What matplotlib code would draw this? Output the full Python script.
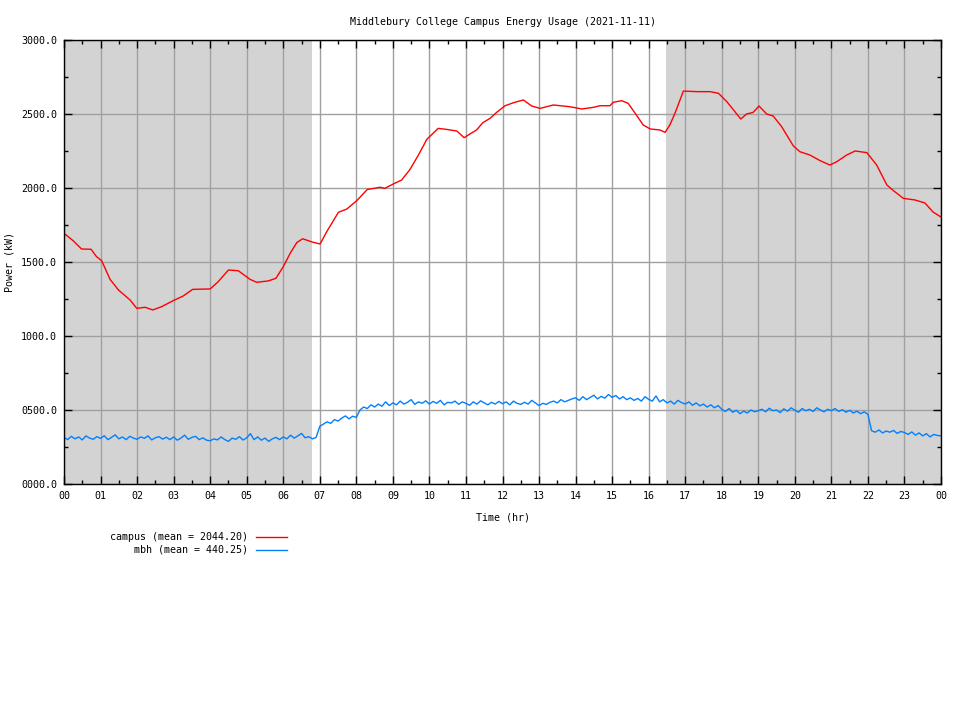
import numpy as np
import matplotlib
matplotlib.use("Agg")
import matplotlib.pyplot as plt
from matplotlib.ticker import MultipleLocator, FixedLocator, FuncFormatter

# campus load (kW), hour of day -> value
campus_hours = [
    0.00, 0.25, 0.48, 0.74, 0.89, 1.03, 1.26, 1.49, 1.81, 1.99,
    2.22, 2.43, 2.67, 2.99, 3.26, 3.52, 4.00, 4.22, 4.50, 4.77,
    5.09, 5.27, 5.59, 5.80, 6.00, 6.19, 6.37, 6.53, 6.82, 7.01,
    7.19, 7.51, 7.74, 8.01, 8.30, 8.65, 8.78, 9.01, 9.24, 9.47,
    9.70, 9.93, 10.24, 10.47, 10.75, 10.95, 11.11, 11.29, 11.46, 11.66,
    11.84, 12.07, 12.30, 12.57, 12.80, 13.03, 13.39, 13.85, 14.17, 14.49,
    14.67, 14.94, 15.03, 15.26, 15.44, 15.63, 15.85, 16.04, 16.31, 16.45,
    16.58, 16.72, 16.95, 17.32, 17.68, 17.91, 18.14, 18.36, 18.52, 18.68,
    18.86, 19.02, 19.23, 19.41, 19.64, 19.96, 20.14, 20.41, 20.69, 20.96,
    21.15, 21.42, 21.65, 21.97, 22.24, 22.52, 22.70, 22.97, 23.29, 23.56,
    23.78, 24.00,
]
campus_kw = [
    1694, 1644, 1588, 1586, 1536, 1509, 1383, 1311, 1243, 1187,
    1194, 1176, 1198, 1239, 1270, 1315, 1318, 1367, 1446, 1441,
    1383, 1363, 1372, 1390, 1468, 1559, 1631, 1657, 1633, 1622,
    1705, 1836, 1858, 1914, 1990, 2005, 1998, 2027, 2054, 2126,
    2223, 2329, 2403, 2396, 2385, 2340, 2365, 2392, 2441, 2471,
    2511, 2556, 2576, 2595, 2554, 2538, 2561, 2549, 2534, 2545,
    2556, 2556, 2579, 2590, 2572, 2505, 2426, 2399, 2392, 2376,
    2426, 2505, 2655, 2651, 2651, 2640, 2583, 2516, 2466, 2500,
    2511, 2554, 2500, 2486, 2414, 2284, 2245, 2223, 2185, 2155,
    2178, 2223, 2250, 2239, 2155, 2020, 1982, 1930, 1919, 1899,
    1838, 1804,
]

# mbh load (kW), one value every 0.1 hr, one row per hour
mbh_kw = [
    315, 300, 322, 305, 318, 298, 325, 310, 302, 320,
    308, 326, 300, 315, 332, 305, 318, 300, 322, 310,
    302, 318, 309, 325, 298, 312, 320, 303, 316, 300,
    318, 296, 310, 330, 302, 315, 322, 300, 312, 296,
    292, 305, 298, 318, 300, 288, 310, 302, 320, 297,
    312, 340, 300, 318, 296, 310, 288, 305, 315, 300,
    318, 305, 330, 310, 325, 342, 312, 320, 305, 315,
    390, 405, 420, 410, 435, 425, 445, 460, 440, 458,
    450, 500, 520, 510, 535, 520, 540, 525, 555, 530,
    548, 535, 560, 540, 552, 570, 538, 555, 545, 562,
    540, 558, 545, 565, 535, 552, 548, 560, 538, 555,
    545, 532, 555, 540, 562, 548, 535, 552, 540, 558,
    542, 555, 535, 560, 545, 538, 552, 540, 565, 548,
    530, 545, 538, 552, 560, 548, 570, 555, 565, 575,
    582, 565, 590, 570, 585, 600, 575, 592, 580, 605,
    585, 598, 575, 590, 570, 582, 565, 578, 560, 590,
    572, 560, 595, 555, 570, 548, 560, 540, 565, 550,
    540, 555, 532, 548, 528, 540, 520, 535, 515, 530,
    505, 490, 510, 485, 498, 475, 492, 480, 500, 488,
    495, 505, 488, 512, 495, 500, 482, 508, 492, 515,
    498, 485, 510, 495, 505, 490, 515, 500, 488, 505,
    495, 510, 490, 502, 485, 498, 480, 492, 475, 488,
    470, 360, 350, 365, 345, 358, 350, 362, 342, 355,
    348, 335, 352, 330, 345, 325, 340, 318, 335, 328,
    325,
]
mbh_hours = [i / 10 for i in range(len(mbh_kw))]

night_spans = [(0.0, 6.78), (16.47, 24.0)]
hour_labels = [f"{h % 24:02d}" for h in range(25)]

FONT = "DejaVu Sans Mono"
FS = 7.2

plt.rcParams["font.family"] = FONT
plt.rcParams["font.size"] = FS

fig = plt.figure(figsize=(9.6, 7.2), dpi=100)
ax = fig.add_axes([64 / 960, 1 - 484 / 720, 877 / 960, 444 / 720])

for start, end in night_spans:
    ax.axvspan(start, end, color="#d3d3d3", lw=0, zorder=0)

ax.plot(campus_hours, campus_kw, color="#ff0000", lw=1.0,
        label="campus (mean = 2044.20)")
ax.plot(mbh_hours, mbh_kw, color="#0080ff", lw=1.0,
        label="    mbh (mean = 440.25)")

ax.set_xlim(0, 24)
ax.set_ylim(0, 3000)
ax.xaxis.set_major_locator(FixedLocator(range(25)))
ax.xaxis.set_major_formatter(FuncFormatter(lambda v, p: hour_labels[int(round(v))]))
ax.xaxis.set_minor_locator(MultipleLocator(0.5))
ax.yaxis.set_major_locator(MultipleLocator(500))
ax.yaxis.set_minor_locator(MultipleLocator(250))
ax.yaxis.set_major_formatter(FuncFormatter(lambda v, p: f"{v:06.1f}"))

ax.grid(True, which="major", color="#a0a0a0", lw=1.0)
ax.tick_params(which="both", direction="in", top=True, right=True,
               colors="black", labelsize=FS, width=1.0)
ax.tick_params(which="major", length=6, pad=5)
ax.tick_params(which="minor", length=3)
for spine in ax.spines.values():
    spine.set_linewidth(1.0)
    spine.set_color("black")

ax.set_title("Middlebury College Campus Energy Usage (2021-11-11)",
             fontsize=FS, pad=11)
ax.set_xlabel("Time (hr)", fontsize=FS, labelpad=8)
ax.set_ylabel("Power (kW)", fontsize=FS)
ax.yaxis.set_label_coords(-49 / 877, 0.5)

ax.legend(loc="upper left", bbox_to_anchor=(110 / 960, 1 - 532 / 720),
          bbox_transform=fig.transFigure, frameon=False, markerfirst=False,
          handlelength=3.1, handletextpad=0.8, labelspacing=0.3,
          borderpad=0, borderaxespad=0, fontsize=FS)

fig.savefig("out.png", dpi=100)
